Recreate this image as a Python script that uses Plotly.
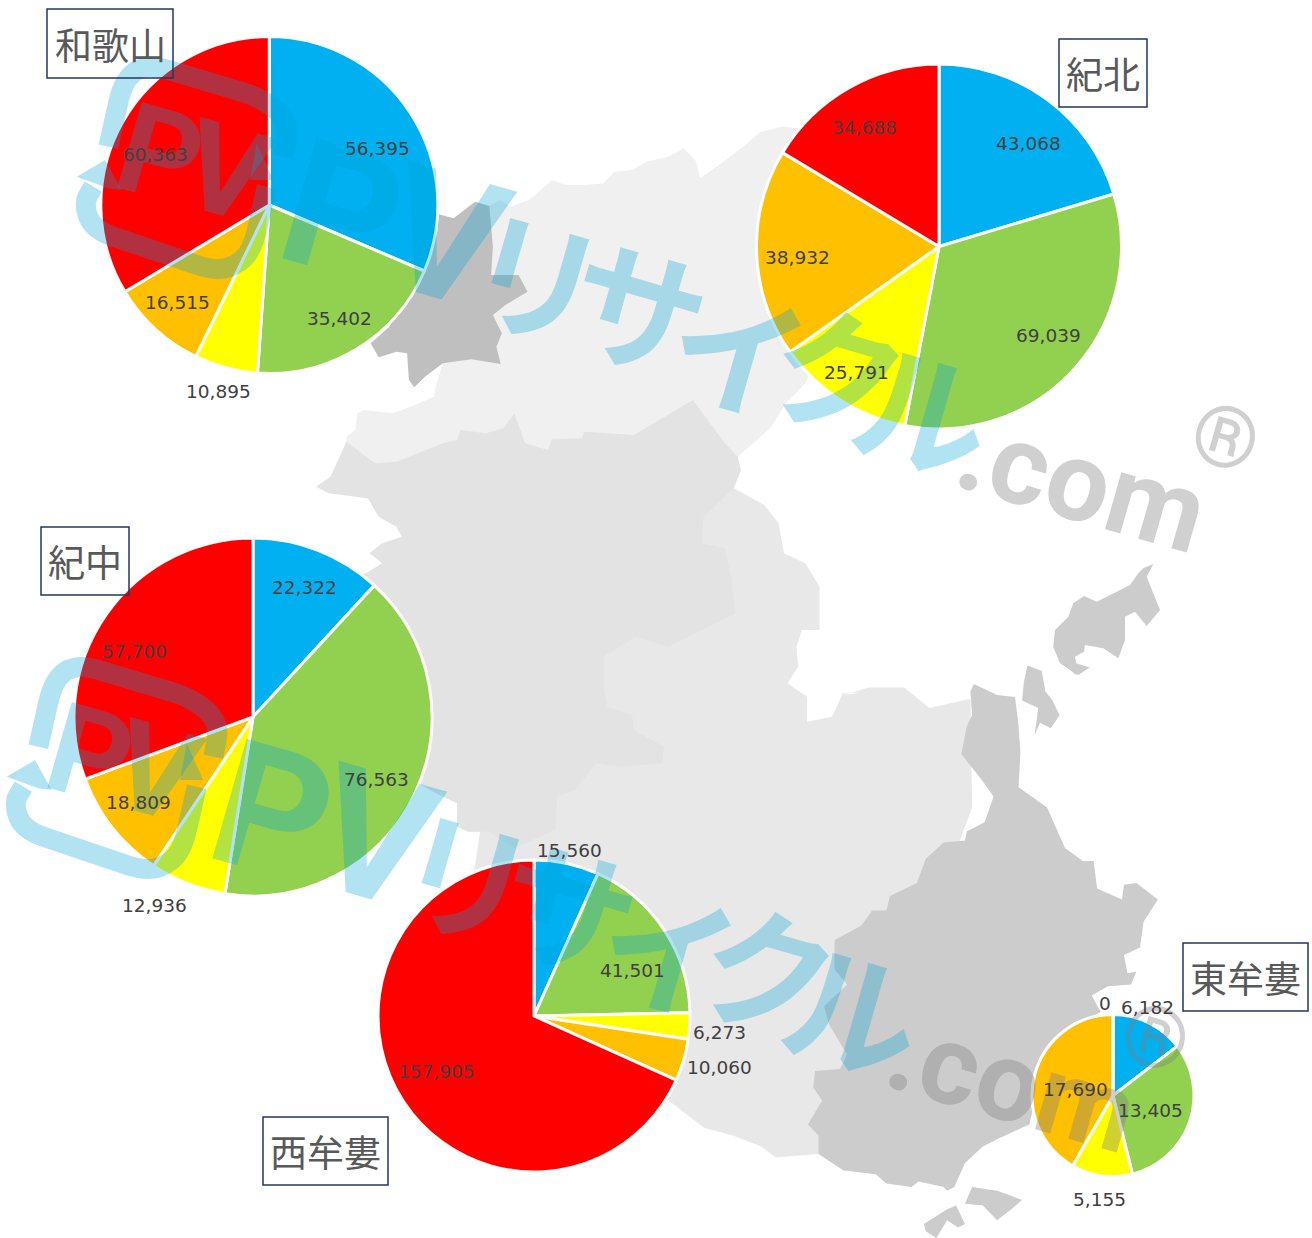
import math
import plotly.graph_objects as go

W, H = 1312, 1238

# ---------- data ----------
categories = ["区分1", "区分2", "区分3", "区分4", "区分5"]
slice_colors = ["#00B0F0", "#92D050", "#FFFF00", "#FFC000", "#FF0000"]
wakayama = [56395, 35402, 10895, 16515, 60363]
kihoku = [43068, 69039, 25791, 38932, 34688]
kichu = [22322, 76563, 12936, 18809, 57700]
nishimuro = [15560, 41501, 6273, 10060, 157905]
higashimuro = [6182, 13405, 5155, 17690, 0]
region_names = ["和歌山", "紀北", "紀中", "西牟婁", "東牟婁"]
region_values = [wakayama, kihoku, kichu, nishimuro, higashimuro]

# ---------- layout of the pies: centre x, centre y, radius ----------
pie_geometry = [(269.3, 205, 168.5), (939, 246.5, 182.5), (253, 717, 179),
                (534, 1016, 156), (1113, 1095.5, 81)]
label_positions = [
    [(377, 148), (339, 318), (218, 391), (177, 302), (155, 154)],
    [(1028, 143), (1048, 335), (856, 372), (797, 257), (864, 127)],
    [(304, 587), (376, 779), (154, 905), (138, 802), (134, 651)],
    [(569, 850), (632, 970), (719, 1032), (719, 1067), (436, 1071)],
    [(1147, 1007), (1150, 1110), (1099, 1199), (1075, 1089), (1105, 1003)],
]
name_boxes = [(47, 9, 173, 78), (1059, 39, 1147, 107), (41, 527, 129, 595),
              (263, 1117, 388, 1185), (1183, 943, 1308, 1011)]


def zoomed(points, x0, y0, sx, sy):
    return [(x0 + x / sx, y0 + y / sy) for x, y in points]


def poly(points):
    return "M" + " L".join(f"{x:.1f},{y:.1f}" for x, y in points) + " Z"


def rounded(points, cut=22):
    """Open SVG path through points with the corners rounded off."""
    d = f"M{points[0][0]:.1f},{points[0][1]:.1f}"
    for i in range(1, len(points) - 1):
        (ax, ay), (bx, by), (cx, cy) = points[i - 1], points[i], points[i + 1]
        la, lc = math.hypot(ax - bx, ay - by), math.hypot(cx - bx, cy - by)
        ka, kc = min(cut, la / 2) / la, min(cut, lc / 2) / lc
        d += f" L{bx + (ax - bx) * ka:.1f},{by + (ay - by) * ka:.1f}"
        d += f" Q{bx:.1f},{by:.1f} {bx + (cx - bx) * kc:.1f},{by + (cy - by) * kc:.1f}"
    d += f" L{points[-1][0]:.1f},{points[-1][1]:.1f}"
    return d


# ---------- background map outlines ----------
outline_kihoku = zoomed([
    (530, 258), (560, 240), (590, 260), (640, 240), (680, 205), (705, 180), (745, 195),
    (800, 195), (850, 190), (880, 155), (930, 150), (970, 125), (1030, 110), (1075, 85),
    (1110, 125), (1120, 175), (1180, 130), (1240, 80), (1290, 35), (1350, 20), (1450, 30),
    (1500, 300), (1450, 700), (1415, 790), (1360, 850), (1320, 920), (1270, 970), (1225, 1010),
    (1195, 1100), (700, 1100), (210, 1030), (130, 1000), (130, 950), (155, 930), (160, 880),
    (180, 870), (260, 880), (310, 860), (375, 830), (380, 800), (400, 730),
], 300, 120, 2.8, 3)

outline_west = (
    zoomed([
        (1215, 265), (1300, 315), (1340, 370), (1355, 460), (1415, 490), (1455, 560), (1455, 690),
        (1405, 690), (1390, 740), (1395, 800), (1365, 850), (1420, 890), (1420, 965), (1490, 950),
        (1520, 880), (1568, 880),
    ], 300, 400, 2.8, 3)
    + zoomed([
        (570, 95), (640, 75), (740, 75), (810, 130), (925, 105), (930, 400), (700, 1000),
        (500, 1340), (380, 1350), (340, 1320), (260, 1290), (180, 1270), (100, 1210), (60, 1180),
        (-100, 1000), (-500, 800),
    ], 640, 660, 2.8, 2.713)
    + [(500, 700), (600, 550)]
)

outline_kichu = zoomed([
    (130, 125), (210, 190), (270, 185), (400, 130), (440, 120), (450, 90), (520, 100), (570, 85),
    (600, 40), (630, 130), (695, 150), (705, 118), (790, 115), (795, 95), (935, 105), (1100, 0),
    (1190, 130), (1225, 170), (1235, 210), (1215, 265), (1130, 350), (1125, 430), (1190, 445),
    (1205, 520), (1220, 640), (1030, 740), (940, 710), (850, 770), (850, 860), (860, 920),
    (930, 945), (935, 990), (1020, 1040), (1015, 1090), (900, 1100), (830, 1090), (770, 1170),
    (720, 1190), (715, 1290), (650, 1320), (600, 1345), (530, 1295), (470, 1295), (440, 1280),
    (440, 1210), (390, 1185), (330, 1150), (100, 900), (100, 530), (185, 520), (230, 490),
    (195, 460), (230, 430), (285, 410), (270, 380), (220, 350), (190, 295), (80, 280), (45, 260),
    (85, 230),
], 300, 400, 2.8, 3)

outline_city = zoomed([
    (388, 283), (430, 295), (490, 245), (530, 258), (540, 380), (535, 465), (612, 465), (637, 515),
    (575, 555), (540, 585), (565, 640), (550, 680), (562, 732), (480, 718), (400, 730), (350, 770),
    (320, 802), (305, 780), (300, 700), (270, 695), (220, 712), (198, 670), (250, 620), (340, 450),
], 300, 120, 2.8, 3)

outline_east = zoomed([
    (935, 65), (1000, 95), (1050, 100), (1060, 180), (1065, 250), (1060, 345), (1140, 400),
    (1190, 510), (1240, 545), (1270, 545), (1280, 620), (1350, 650), (1355, 610), (1390, 605),
    (1450, 650), (1410, 710), (1400, 780), (1355, 800), (1365, 850), (1390, 845), (1375, 880),
    (1310, 885), (1265, 910), (1290, 955), (1200, 1000), (1110, 1180), (1090, 1260), (1000, 1300),
    (960, 1320), (910, 1365), (880, 1430), (860, 1440), (850, 1430), (780, 1415), (760, 1430),
    (690, 1420), (660, 1395), (570, 1385), (500, 1340), (500, 1290), (470, 1260), (510, 1195),
    (485, 1160), (490, 1115), (560, 1110), (580, 1070), (530, 990), (515, 940), (580, 880),
    (545, 840), (545, 760), (620, 720), (650, 680), (690, 680), (700, 640), (775, 605), (800, 540),
    (850, 495), (910, 490), (915, 465), (965, 440), (990, 370), (960, 330), (900, 255), (915, 180),
    (930, 150), (925, 85),
], 640, 660, 2.8, 2.713)

outline_islands = [
    zoomed([(640, 492), (610, 505), (595, 520), (570, 555), (530, 575), (470, 605), (432, 588),
            (400, 610), (385, 650), (345, 690), (340, 740), (360, 790), (415, 825), (445, 805),
            (410, 795), (405, 770), (432, 755), (435, 735), (490, 745), (535, 775), (555, 720),
            (555, 650), (585, 635), (620, 678), (660, 630), (620, 530)], 940, 400, 3, 3),
    zoomed([(1085, 15), (1125, 30), (1135, 85), (1155, 110), (1175, 150), (1150, 185), (1120, 170),
            (1105, 205), (1115, 130), (1070, 110), (1075, 60)], 640, 660, 2.8, 2.713),
    zoomed([(1170, 0), (1190, 0), (1260, 20), (1220, 40)], 640, 660, 2.8, 2.713),
    zoomed([(930, 1430), (1000, 1440), (1030, 1450), (1070, 1465), (1040, 1490), (1000, 1520),
            (960, 1480), (910, 1475)], 640, 660, 2.8, 2.713),
    zoomed([(795, 1530), (860, 1490), (885, 1480), (910, 1530), (890, 1540), (860, 1520),
            (830, 1568), (800, 1550)], 640, 660, 2.8, 2.713),
]

map_regions = [(outline_kihoku, "#F0F0F0"), (outline_west, "#E8E8E8"), (outline_kichu, "#E3E3E3"),
               (outline_city, "#BFBFBF"), (outline_east, "#CCCCCC")]
map_regions += [(p, "#CCCCCC") for p in outline_islands]

# ---------- watermark ----------
WM_BLUE = "rgba(0,161,215,0.30)"
WM_GREY = "rgba(127,127,127,0.37)"
WM_ANGLE = 16
wm_offsets = [(0, 0), (-70, 600)]
# text, x, y, size, family, colour
wm_glyphs = [
    ("P", 160, 155, 125, "Roboto", WM_BLUE),
    ("V", 226, 172, 125, "Roboto", WM_BLUE),
    ("P", 342, 213, 175, "Roboto", WM_BLUE),
    ("V", 445, 238, 175, "Roboto", WM_BLUE),
    ("リ", 537, 272, 135, "Noto Sans CJK JP", WM_BLUE),
    ("サ", 640, 302, 135, "Noto Sans CJK JP", WM_BLUE),
    ("イ", 740, 346, 135, "Noto Sans CJK JP", WM_BLUE),
    ("ク", 840, 365, 135, "Noto Sans CJK JP", WM_BLUE),
    ("ル", 925, 405, 135, "Noto Sans CJK JP", WM_BLUE),
    (".com", 1082, 482, 112, "Roboto", WM_GREY),
    ("®", 1225, 438, 85, "Roboto", WM_GREY),
]
wm_strokes = [
    [(145, 320), (190, 120), (260, 70), (610, 175), (690, 250), (670, 350)],
    [(100, 440), (70, 490), (100, 570), (470, 695), (540, 670), (580, 620), (620, 440)],
]
wm_heads = [[(50, 410), (135, 360), (185, 450), (145, 445)],
            [(590, 310), (640, 420), (570, 420)]]

# ---------- figure ----------
fig = go.Figure()
for values, (cx, cy, r) in zip(region_values, pie_geometry):
    fig.add_trace(go.Pie(
        labels=categories, values=values, sort=False, direction="clockwise", rotation=0,
        marker=dict(colors=slice_colors, line=dict(color="#FFFFFF", width=3)),
        textinfo="none", showlegend=False, hoverinfo="label+value",
        domain=dict(x=[(cx - r) / W, (cx + r) / W], y=[1 - (cy + r) / H, 1 - (cy - r) / H]),
    ))

shapes = []
for outline, colour in map_regions:
    shapes.append(dict(type="path", path=poly(outline), xref="x", yref="y",
                       fillcolor=colour, line=dict(width=0), layer="below"))

annotations = []
for dx, dy in wm_offsets:
    for stroke in wm_strokes:
        pts = zoomed(stroke, 60 + dx, 40 + dy, 3, 3)
        shapes.append(dict(type="path", xref="x", yref="y", layer="above", path=rounded(pts),
                           line=dict(color=WM_BLUE, width=20)))
    for head in wm_heads:
        shapes.append(dict(type="path", xref="x", yref="y", layer="above",
                           path=poly(zoomed(head, 60 + dx, 40 + dy, 3, 3)),
                           fillcolor=WM_BLUE, line=dict(width=0)))
    for text, x, y, size, family, colour in wm_glyphs:
        annotations.append(dict(text=f"<b>{text}</b>", x=x + dx, y=y + dy, xref="x", yref="y",
                                showarrow=False, textangle=WM_ANGLE, xanchor="center",
                                yanchor="middle",
                                font=dict(size=size, family=family, color=colour)))

for name, (x0, y0, x1, y1) in zip(region_names, name_boxes):
    shapes.append(dict(type="rect", x0=x0, y0=y0, x1=x1, y1=y1, xref="x", yref="y", layer="above",
                       line=dict(color="#1F3864", width=1.5), fillcolor="rgba(0,0,0,0)"))
    annotations.append(dict(text=name, x=(x0 + x1) / 2, y=(y0 + y1) / 2, xref="x", yref="y",
                            showarrow=False, xanchor="center", yanchor="middle",
                            font=dict(size=37, family="Noto Sans CJK JP", color="#595959")))

for values, positions in zip(region_values, label_positions):
    for value, (x, y) in zip(values, positions):
        annotations.append(dict(text=f"{value:,}", x=x, y=y, xref="x", yref="y", showarrow=False,
                                xanchor="center", yanchor="middle",
                                font=dict(size=18.5, family="DejaVu Sans", color="#404040")))

fig.update_layout(
    width=W, height=H, margin=dict(l=0, r=0, t=0, b=0), paper_bgcolor="#FFFFFF",
    plot_bgcolor="rgba(0,0,0,0)",
    xaxis=dict(range=[0, W], visible=False, domain=[0, 1], fixedrange=True),
    yaxis=dict(range=[H, 0], visible=False, domain=[0, 1], fixedrange=True),
    shapes=shapes, annotations=annotations,
)
fig.write_html("out.html", post_script="document.body.style.margin='0';",
               config={"displayModeBar": False})
